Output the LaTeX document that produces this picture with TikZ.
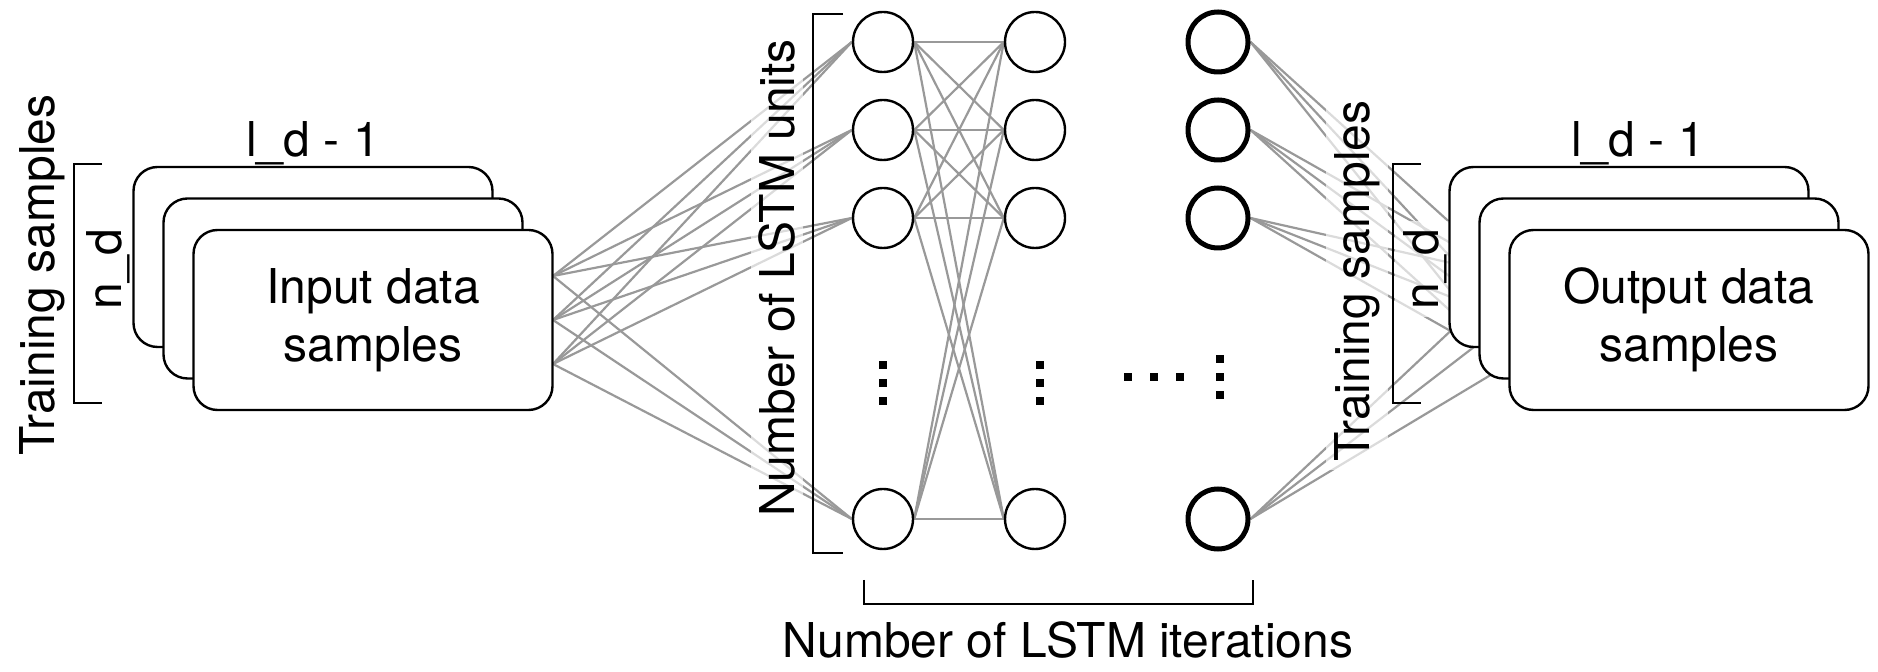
\documentclass[tikz,border=0pt]{standalone}
\usepackage{fontspec}
\setmainfont{TeX Gyre Heros}
\usetikzlibrary{positioning,backgrounds}

\begin{document}
\begin{tikzpicture}[x=0.5pt, y=-0.5pt, every node/.style={font=\fontsize{24}{29}\selectfont},
    card/.style={draw, line width=1.2pt, fill=white, rounded corners=12pt, minimum width=179.5pt, minimum height=90pt, align=center},
    unit/.style={draw, circle, line width=1.2pt, fill=white, minimum size=30pt, inner sep=0pt},
    lastunit/.style={unit, line width=2.5pt},
    link/.style={draw=black!40, line width=1.1pt},
    veil/.style={fill=white, fill opacity=0.65, text opacity=1, inner sep=4pt, rotate=90},
    brk/.style={line width=1.2pt}]
            \useasboundingbox (0,0) rectangle (1878,672);
            \node[veil] (tsl) at (42,275) {Training samples};
            \node[veil] (ndl) at (108,269) {n\_d};
            \node[veil] (units) at (777,278) {Number of LSTM units};
            \node[veil] (tsr) at (1357,281) {Training samples};
            \node[veil] (ndr) at (1425,269) {n\_d};
            \draw[brk] (102,164) -| (74,403) -- (102,403);
            \draw[brk] (843,14) -| (813,553) -- (843,553);
            \draw[brk] (864,580) |- (1253,604) -- (1253,580);
            \draw[brk] (1421,164) -| (1393,403) -- (1421,403);
            \node[card] (in1) at (313,257) {};
            \node[card] (in2) at (343,288.5) {};
            \node[card] (in3) at (373,320) {Input data\\samples};
            \node[card] (out1) at (1629,257) {};
            \node[card] (out2) at (1659,288.5) {};
            \node[card] (out3) at (1689,320) {Output data\\samples};
            \node[above=-3pt of in1] (ldl) {l\_d - 1};
            \node[above=-3pt of out1, xshift=4.5pt] (ldr) {l\_d - 1};
            \node (iters) at (1068,640) {Number of LSTM iterations};
            \foreach \r/\y in {1/42, 2/130, 3/218, 4/519} {
                \node[unit] (a\r) at (883,\y) {};
                \node[unit] (b\r) at (1035,\y) {};
                \node[lastunit] (c\r) at (1218,\y) {};
            }
            \foreach \k/\y in {1/276, 2/320, 3/364} {
                \coordinate (ip\k) at (553,\y);
                \coordinate (op\k) at (1509,\y);
            }
            \begin{pgfonlayer}{background}
                \foreach \k in {1,2,3}
                    \foreach \r in {1,...,4} {
                        \draw[link] (ip\k) -- (a\r.west);
                        \draw[link] (c\r.east) -- (op\k);
                    }
                \foreach \r in {1,...,4}
                    \foreach \s in {1,...,4}
                        \draw[link] (a\r.east) -- (b\s.west);
            \end{pgfonlayer}
            \foreach \y in {361,379,397} {
                \fill (879,\y) rectangle +(8,8);
                \fill (1036,\y) rectangle +(8,8);
            }
            \foreach \y in {355,373,391}
                \fill (1216,\y) rectangle +(8,8);
            \foreach \x in {1124,1150,1176}
                \fill (\x,373) rectangle +(8,8);
        \end{tikzpicture}
\end{document}
